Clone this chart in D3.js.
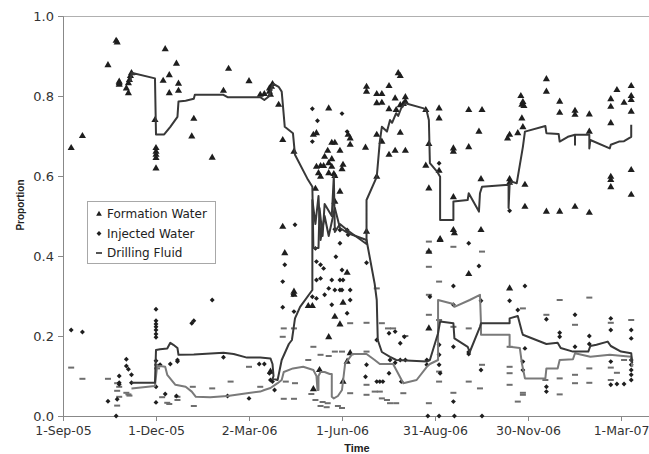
<!DOCTYPE html>
<html><head><meta charset="utf-8">
<script src="https://cdn.jsdelivr.net/npm/d3@7"></script>
<style>body{margin:0;background:#fff}svg{display:block}</style>
</head><body>
<svg id="c" width="649" height="454"></svg>
<script>
const xTicks = ["2005-09-01","2005-12-01","2006-03-02","2006-06-01","2006-08-31","2006-11-30","2007-03-01"];
const yTicks = [0,0.2,0.4,0.6,0.8,1.0];
const seriesNames = ["Formation Water","Injected Water","Drilling Fluid"];

const formationWater = [["2005-09-09",0.67],["2005-09-20",0.70],["2005-10-15",0.877],["2005-10-23",0.938],["2005-10-24",0.934],["2005-10-26",0.836],["2005-10-26",0.828],["2005-10-26",0.832],["2005-11-02",0.819],["2005-11-04",0.807],["2005-11-04",0.832],["2005-11-05",0.84],["2005-11-06",0.85],["2005-11-07",0.857],["2005-11-30",0.74],["2005-12-01",0.67],["2005-12-01",0.661],["2005-12-01",0.653],["2005-12-01",0.645],["2005-12-01",0.619],["2005-12-08",0.838],["2005-12-10",0.917],["2005-12-14",0.852],["2005-12-14",0.807],["2005-12-21",0.881],["2005-12-23",0.831],["2005-12-23",0.813],["2006-01-05",0.699],["2006-01-07",0.743],["2006-01-25",0.646],["2006-02-05",0.813],["2006-02-10",0.868],["2006-03-02",0.837],["2006-03-13",0.803],["2006-03-17",0.805],["2006-03-22",0.819],["2006-03-22",0.811],["2006-03-23",0.803],["2006-03-24",0.823],["2006-03-25",0.83],["2006-03-31",0.778],["2006-04-04",0.69],["2006-04-04",0.473],["2006-04-06",0.407],["2006-04-15",0.661],["2006-04-15",0.311],["2006-04-15",0.303],["2006-04-29",0.275],["2006-05-03",0.275],["2006-05-04",0.703],["2006-05-07",0.707],["2006-05-06",0.568],["2006-05-07",0.623],["2006-05-09",0.607],["2006-05-11",0.625],["2006-05-11",0.598],["2006-05-14",0.625],["2006-05-18",0.663],["2006-05-15",0.648],["2006-05-19",0.632],["2006-05-19",0.607],["2006-05-19",0.769],["2006-05-22",0.642],["2006-05-22",0.683],["2006-05-22",0.623],["2006-05-24",0.605],["2006-05-25",0.683],["2006-05-25",0.60],["2006-05-25",0.536],["2006-05-30",0.663],["2006-05-30",0.561],["2006-06-01",0.617],["2006-06-02",0.628],["2006-06-07",0.703],["2006-06-09",0.694],["2006-06-09",0.678],["2006-06-06",0.358],["2006-06-02",0.283],["2006-05-25",0.248],["2006-05-30",0.229],["2006-05-19",0.197],["2006-05-04",0.067],["2006-05-10",0.115],["2006-06-09",0.157],["2006-06-06",0.136],["2006-06-02",0.086],["2006-03-23",0.111],["2006-06-25",0.461],["2006-06-25",0.823],["2006-06-25",0.811],["2006-06-24",0.671],["2006-07-05",0.805],["2006-07-05",0.782],["2006-07-10",0.805],["2006-07-10",0.783],["2006-07-17",0.825],["2006-07-26",0.857],["2006-07-28",0.85],["2006-07-23",0.794],["2006-08-02",0.797],["2006-08-02",0.786],["2006-07-17",0.767],["2006-07-24",0.765],["2006-07-28",0.777],["2006-07-31",0.78],["2006-07-05",0.703],["2006-07-10",0.686],["2006-07-28",0.708],["2006-07-17",0.653],["2006-07-23",0.663],["2006-08-02",0.663],["2006-07-05",0.598],["2006-08-22",0.765],["2006-09-04",0.769],["2006-09-04",0.744],["2006-08-25",0.68],["2006-08-22",0.626],["2006-09-04",0.613],["2006-08-25",0.569],["2006-08-25",0.411],["2006-08-25",0.219],["2006-09-05",0.442],["2006-10-03",0.765],["2006-10-16",0.765],["2006-10-13",0.711],["2006-10-03",0.672],["2006-09-18",0.669],["2006-09-18",0.661],["2006-10-15",0.592],["2006-09-18",0.547],["2006-11-12",0.703],["2006-11-10",0.694],["2006-11-20",0.707],["2006-11-23",0.80],["2006-11-25",0.785],["2006-11-24",0.778],["2006-11-26",0.775],["2006-11-24",0.744],["2006-11-25",0.722],["2006-11-12",0.592],["2006-11-12",0.583],["2006-11-27",0.578],["2006-11-27",0.523],["2006-12-18",0.842],["2006-12-18",0.811],["2006-12-31",0.786],["2006-12-31",0.758],["2007-01-15",0.763],["2007-01-15",0.753],["2007-01-29",0.754],["2007-01-29",0.711],["2006-12-18",0.511],["2006-12-31",0.511],["2007-01-15",0.523],["2007-01-29",0.508],["2007-02-19",0.792],["2007-02-19",0.773],["2007-02-25",0.815],["2007-03-04",0.783],["2007-03-11",0.825],["2007-03-11",0.80],["2007-03-11",0.79],["2007-03-11",0.761],["2007-02-19",0.732],["2007-03-11",0.615],["2007-02-19",0.598],["2007-02-19",0.59],["2007-02-19",0.572],["2007-03-11",0.553],["2006-09-18",0.465],["2006-09-19",0.457],["2006-10-15",0.465],["2006-09-05",0.44],["2006-10-03",0.355],["2006-11-12",0.319]];

const injectedWater = [["2005-09-09",0.215],["2005-09-20",0.21],["2005-10-15",0.037],["2005-10-24",0.042],["2005-10-23",0.0],["2005-10-26",0.10],["2005-10-26",0.083],["2005-10-26",0.079],["2005-11-02",0.142],["2005-11-02",0.125],["2005-11-04",0.117],["2005-11-07",0.103],["2005-11-07",0.083],["2005-12-01",0.267],["2005-12-01",0.238],["2005-12-01",0.23],["2005-12-01",0.223],["2005-12-01",0.215],["2005-12-01",0.205],["2005-12-01",0.197],["2005-12-01",0.138],["2005-12-01",0.073],["2005-12-01",0.034],["2005-12-05",0.128],["2005-12-10",0.055],["2005-12-15",0.13],["2005-12-22",0.14],["2005-12-22",0.136],["2005-12-21",0.05],["2006-01-05",0.232],["2006-01-07",0.238],["2006-01-25",0.29],["2006-02-05",0.147],["2006-02-09",0.05],["2006-03-02",0.044],["2006-03-12",0.13],["2006-03-17",0.13],["2006-03-22",0.107],["2006-03-23",0.09],["2006-03-25",0.086],["2006-03-27",0.065],["2006-04-04",0.336],["2006-04-04",0.272],["2006-04-06",0.378],["2006-04-14",0.303],["2006-04-15",0.261],["2006-04-16",0.478],["2006-05-03",0.298],["2006-05-07",0.294],["2006-05-06",0.419],["2006-05-07",0.386],["2006-05-11",0.378],["2006-05-14",0.369],["2006-05-07",0.34],["2006-05-11",0.344],["2006-05-15",0.303],["2006-05-19",0.319],["2006-05-22",0.34],["2006-05-22",0.278],["2006-05-25",0.315],["2006-05-30",0.315],["2006-05-30",0.34],["2006-06-01",0.315],["2006-06-01",0.365],["2006-06-09",0.315],["2006-06-02",0.34],["2006-06-06",0.257],["2006-06-09",0.29],["2006-05-25",0.467],["2006-05-30",0.465],["2006-06-06",0.465],["2006-06-07",0.453],["2006-05-26",0.398],["2006-05-30",0.432],["2006-06-25",0.383],["2006-05-03",0.768],["2006-06-01",0.756],["2006-05-08",0.738],["2006-05-03",0.686],["2006-06-06",0.711],["2006-07-05",0.19],["2006-07-17",0.207],["2006-07-23",0.211],["2006-07-28",0.182],["2006-08-01",0.198],["2006-07-18",0.14],["2006-07-23",0.133],["2006-07-28",0.14],["2006-08-02",0.14],["2006-07-17",0.107],["2006-06-24",0.098],["2006-07-05",0.086],["2006-07-08",0.086],["2006-07-11",0.086],["2006-07-29",0.086],["2006-06-25",0.128],["2006-08-23",0.14],["2006-08-23",0.128],["2006-09-04",0.178],["2006-09-04",0.153],["2006-09-04",0.128],["2006-09-05",0.107],["2006-08-26",0.298],["2006-09-04",0.632],["2006-08-24",0.0],["2006-09-04",0.0],["2006-09-19",0.0],["2006-10-16",0.0],["2006-11-12",0.513],["2006-10-03",0.432],["2006-10-13",0.375],["2006-09-18",0.325],["2006-11-27",0.325],["2006-11-12",0.288],["2006-10-15",0.288],["2006-09-18",0.278],["2006-11-20",0.265],["2007-01-15",0.253],["2006-12-18",0.242],["2007-02-19",0.244],["2007-02-19",0.215],["2007-03-11",0.215],["2007-03-11",0.194],["2006-12-31",0.208],["2006-12-31",0.198],["2007-01-29",0.20],["2007-01-29",0.18],["2007-01-15",0.173],["2006-11-27",0.169],["2006-09-18",0.173],["2006-10-03",0.16],["2006-10-03",0.155],["2006-11-25",0.136],["2006-11-25",0.115],["2006-10-15",0.115],["2006-12-18",0.073],["2006-12-18",0.061],["2006-09-18",0.036],["2007-02-19",0.078],["2007-02-25",0.08],["2007-03-04",0.08],["2007-03-11",0.14],["2007-03-11",0.128],["2007-03-11",0.115],["2007-03-11",0.103],["2007-03-11",0.09],["2007-02-19",0.136]];

const drillingFluid = [["2005-09-09",0.121],["2005-09-20",0.093],["2005-10-15",0.093],["2005-10-24",0.063],["2005-10-24",0.082],["2005-10-24",0.026],["2005-10-26",0.073],["2005-10-26",0.048],["2005-11-02",0.058],["2005-11-04",0.054],["2005-11-05",0.051],["2005-12-02",0.128],["2005-12-02",0.119],["2005-12-07",0.047],["2005-12-12",0.033],["2005-12-14",0.03],["2005-12-22",0.04],["2005-12-22",0.048],["2006-01-06",0.073],["2006-01-07",0.025],["2006-01-25",0.069],["2006-02-12",0.086],["2006-03-02",0.123],["2006-03-13",0.073],["2006-04-05",0.219],["2006-04-04",0.198],["2006-04-15",0.219],["2006-04-07",0.086],["2006-04-16",0.082],["2006-04-05",0.043],["2006-04-15",0.043],["2006-05-04",0.173],["2006-04-29",0.14],["2006-05-11",0.153],["2006-05-19",0.15],["2006-05-25",0.161],["2006-06-01",0.161],["2006-06-25",0.161],["2006-07-05",0.319],["2006-06-09",0.232],["2006-06-25",0.233],["2006-07-10",0.232],["2006-07-16",0.219],["2006-07-21",0.219],["2006-08-02",0.20],["2006-05-02",0.055],["2006-05-06",0.04],["2006-05-13",0.035],["2006-05-18",0.032],["2006-05-11",0.025],["2006-05-17",0.022],["2006-05-28",0.025],["2006-06-01",0.02],["2006-06-09",0.057],["2006-06-25",0.053],["2006-06-25",0.078],["2006-07-03",0.061],["2006-07-08",0.061],["2006-07-10",0.044],["2006-07-15",0.04],["2006-07-18",0.032],["2006-07-24",0.032],["2006-07-31",0.057],["2006-08-25",0.436],["2006-08-25",0.411],["2006-08-25",0.373],["2006-08-25",0.303],["2006-08-25",0.253],["2006-08-25",0.032],["2006-09-04",0.336],["2006-09-04",0.24],["2006-09-04",0.086],["2006-09-04",0.111],["2006-09-18",0.423],["2006-10-16",0.411],["2006-12-31",0.29],["2007-01-29",0.296],["2006-11-25",0.269],["2006-12-18",0.253],["2007-01-15",0.228],["2007-03-11",0.24],["2007-02-19",0.233],["2006-10-03",0.219],["2006-09-18",0.223],["2006-11-12",0.173],["2006-11-12",0.123],["2006-11-12",0.107],["2006-11-12",0.078],["2006-10-16",0.128],["2007-01-15",0.103],["2007-01-15",0.082],["2007-01-29",0.119],["2007-01-29",0.083],["2006-12-31",0.094],["2006-12-31",0.054],["2006-12-17",0.09],["2007-02-19",0.121],["2007-02-19",0.09],["2007-02-25",0.108],["2007-03-04",0.14],["2006-10-03",0.086],["2006-10-14",0.069],["2006-09-18",0.058],["2006-11-20",0.036],["2006-11-25",0.058],["2006-11-25",0.053]];

const formationTrend = [["2005-11-06",0.836],["2005-11-07",0.858],["2005-11-30",0.844],["2005-12-01",0.704],["2005-12-09",0.704],["2005-12-15",0.723],["2005-12-22",0.748],["2005-12-23",0.786],["2005-12-30",0.788],["2006-01-07",0.793],["2006-01-08",0.803],["2006-02-05",0.803],["2006-02-09",0.797],["2006-03-13",0.797],["2006-03-17",0.79],["2006-03-22",0.80],["2006-03-25",0.828],["2006-03-26",0.83],["2006-03-31",0.823],["2006-04-03",0.811],["2006-04-04",0.782],["2006-04-06",0.723],["2006-04-14",0.707],["2006-04-16",0.653],["2006-04-28",0.594],["2006-05-03",0.573],["2006-05-04",0.42],["2006-05-09",0.42],["2006-05-10",0.52],["2006-05-13",0.45],["2006-05-15",0.53],["2006-05-22",0.50],["2006-05-24",0.60],["2006-05-25",0.46],["2006-05-30",0.48],["2006-06-06",0.465],["2006-06-25",0.43],["2006-06-25",0.54],["2006-07-05",0.598],["2006-07-08",0.686],["2006-07-10",0.723],["2006-07-15",0.711],["2006-07-18",0.74],["2006-07-20",0.733],["2006-07-24",0.757],["2006-07-26",0.75],["2006-07-29",0.77],["2006-08-02",0.782],["2006-08-20",0.769],["2006-08-23",0.761],["2006-08-25",0.74],["2006-08-26",0.632],["2006-09-02",0.611],["2006-09-05",0.598],["2006-09-05",0.49],["2006-09-18",0.49],["2006-09-18",0.536],["2006-10-02",0.54],["2006-10-03",0.557],["2006-10-13",0.511],["2006-10-14",0.557],["2006-10-16",0.573],["2006-11-11",0.578],["2006-11-11",0.52],["2006-11-12",0.578],["2006-11-14",0.586],["2006-11-19",0.582],["2006-11-25",0.673],["2006-11-27",0.711],["2006-12-17",0.725],["2006-12-18",0.707],["2006-12-30",0.705],["2006-12-31",0.686],["2007-01-08",0.698],["2007-01-15",0.703],["2007-01-15",0.678],["2007-01-15",0.703],["2007-01-29",0.703],["2007-01-29",0.669],["2007-01-30",0.69],["2007-02-18",0.669],["2007-02-19",0.678],["2007-02-27",0.686],["2007-03-04",0.687],["2007-03-11",0.698],["2007-03-11",0.728]];

const injectedTrend = [["2005-11-07",0.083],["2005-11-30",0.083],["2005-12-01",0.165],["2005-12-05",0.167],["2005-12-12",0.169],["2005-12-15",0.183],["2005-12-18",0.178],["2005-12-22",0.17],["2005-12-23",0.153],["2006-01-07",0.154],["2006-02-05",0.158],["2006-02-15",0.155],["2006-02-28",0.146],["2006-03-13",0.146],["2006-03-23",0.144],["2006-03-25",0.13],["2006-03-26",0.10],["2006-03-25",0.093],["2006-03-30",0.09],["2006-04-03",0.14],["2006-04-10",0.18],["2006-04-13",0.19],["2006-04-16",0.244],["2006-04-21",0.273],["2006-05-03",0.315],["2006-05-03",0.54],["2006-05-06",0.48],["2006-05-09",0.55],["2006-05-11",0.44],["2006-05-15",0.50],["2006-05-19",0.45],["2006-05-25",0.52],["2006-05-30",0.47],["2006-06-05",0.46],["2006-06-09",0.455],["2006-06-25",0.44],["2006-07-03",0.33],["2006-07-05",0.29],["2006-07-06",0.19],["2006-07-10",0.16],["2006-07-18",0.148],["2006-07-24",0.14],["2006-08-23",0.136],["2006-08-26",0.14],["2006-09-03",0.207],["2006-09-05",0.236],["2006-09-18",0.232],["2006-09-19",0.194],["2006-10-02",0.173],["2006-10-04",0.16],["2006-10-14",0.223],["2006-10-15",0.232],["2006-11-12",0.232],["2006-11-12",0.244],["2006-11-20",0.25],["2006-11-24",0.211],["2006-11-25",0.203],["2006-12-18",0.18],["2006-12-29",0.183],["2007-01-01",0.17],["2007-01-13",0.161],["2007-01-28",0.161],["2007-01-30",0.175],["2007-02-05",0.178],["2007-02-16",0.186],["2007-02-19",0.175],["2007-03-01",0.161],["2007-03-11",0.157],["2007-03-12",0.132]];

const drillingTrend = [["2005-11-07",0.069],["2005-11-30",0.075],["2005-12-02",0.123],["2005-12-05",0.125],["2005-12-10",0.123],["2005-12-12",0.103],["2005-12-20",0.078],["2005-12-30",0.073],["2006-01-05",0.061],["2006-01-09",0.048],["2006-01-23",0.047],["2006-02-09",0.05],["2006-02-28",0.057],["2006-03-13",0.061],["2006-03-17",0.065],["2006-03-23",0.07],["2006-03-30",0.082],["2006-04-03",0.09],["2006-04-05",0.11],["2006-04-14",0.119],["2006-04-24",0.123],["2006-05-04",0.115],["2006-05-07",0.10],["2006-05-08",0.065],["2006-05-09",0.065],["2006-05-09",0.10],["2006-05-11",0.11],["2006-05-15",0.11],["2006-05-20",0.105],["2006-05-22",0.105],["2006-05-22",0.048],["2006-05-24",0.044],["2006-05-28",0.05],["2006-06-01",0.065],["2006-06-04",0.13],["2006-06-09",0.148],["2006-06-11",0.155],["2006-06-25",0.155],["2006-07-03",0.14],["2006-07-08",0.13],["2006-07-21",0.13],["2006-07-31",0.082],["2006-08-13",0.09],["2006-08-23",0.123],["2006-08-26",0.13],["2006-09-03",0.14],["2006-09-03",0.29],["2006-09-18",0.28],["2006-09-19",0.273],["2006-10-04",0.29],["2006-10-14",0.303],["2006-10-15",0.23],["2006-10-15",0.203],["2006-11-12",0.203],["2006-11-12",0.173],["2006-11-22",0.17],["2006-11-24",0.132],["2006-11-27",0.094],["2006-12-17",0.094],["2006-12-18",0.119],["2006-12-29",0.119],["2006-12-31",0.14],["2007-01-13",0.142],["2007-01-15",0.157],["2007-01-30",0.148],["2007-02-18",0.153],["2007-03-11",0.148],["2007-03-12",0.123]];

const parse = d3.timeParse("%Y-%m-%d");
const svg = d3.select("#c");
const x = d3.scaleTime().domain([parse("2005-09-01"), parse("2007-03-01")]).range([63, 621]);
const y = d3.scaleLinear().domain([0, 1]).range([416, 16]);
const font = "'DejaVu Sans', Verdana, sans-serif";

// top border
svg.append("line").attr("x1", 63).attr("x2", 649).attr("y1", 16.5).attr("y2", 16.5)
  .attr("stroke", "#b0b0b0").attr("stroke-width", 1);

// axes
const xAxis = svg.append("g").attr("transform", "translate(0,416)")
  .call(d3.axisBottom(x).tickValues(xTicks.map(parse)).tickFormat(d3.timeFormat("%-d-%b-%y")).tickSize(5).tickPadding(5));
xAxis.select(".domain").remove();
xAxis.selectAll("line").attr("stroke", "#888");
xAxis.selectAll("text").attr("font-family", font).attr("font-size", 12.5).attr("fill", "#333");
svg.append("line").attr("x1", 63).attr("x2", 649).attr("y1", 416.5).attr("y2", 416.5).attr("stroke", "#888");

const yAxis = svg.append("g").attr("transform", "translate(63,0)")
  .call(d3.axisLeft(y).tickValues(yTicks).tickFormat(d3.format(".1f")).tickSize(5).tickPadding(4));
yAxis.select(".domain").attr("stroke", "#888");
yAxis.selectAll("line").attr("stroke", "#888");
yAxis.selectAll("text").attr("font-family", font).attr("font-size", 13).attr("fill", "#333");

svg.append("text").attr("x", 357).attr("y", 452).attr("text-anchor", "middle")
  .attr("font-family", "'Liberation Sans', Arial, sans-serif").attr("font-weight", "bold").attr("font-size", 11).attr("fill", "#222").text("Time");
svg.append("text").attr("transform", "translate(24,205) rotate(-90)").attr("text-anchor", "middle")
  .attr("font-family", "'Liberation Sans', Arial, sans-serif").attr("font-weight", "bold").attr("font-size", 10).attr("fill", "#222").text("Proportion");

const prep = a => a.map(d => ({date: parse(d[0]), v: d[1]}));
const line = d3.line().x(d => x(d.date)).y(d => y(d.v));

const g = svg.append("g");
const tri = d3.symbol(d3.symbolTriangle, 22)();
const dia = d3.symbol(d3.symbolSquare, 12)();

g.selectAll(".dash").data(prep(drillingFluid)).join("rect")
  .attr("x", d => x(d.date) - 3).attr("y", d => y(d.v) - 1).attr("width", 6).attr("height", 2).attr("fill", "#6e6e6e");
g.selectAll(".dia").data(prep(injectedWater)).join("path").attr("d", dia)
  .attr("transform", d => `translate(${x(d.date)},${y(d.v)}) rotate(45)`).attr("fill", "#1e1e1e");
g.selectAll(".tri").data(prep(formationWater)).join("path").attr("d", tri)
  .attr("transform", d => `translate(${x(d.date)},${y(d.v)})`).attr("fill", "#1e1e1e");

svg.append("path").datum(prep(drillingTrend)).attr("d", line).attr("fill", "none").attr("stroke", "#7a7a7a").attr("stroke-width", 2).attr("stroke-linejoin", "round");
svg.append("path").datum(prep(injectedTrend)).attr("d", line).attr("fill", "none").attr("stroke", "#383838").attr("stroke-width", 2).attr("stroke-linejoin", "round");
svg.append("path").datum(prep(formationTrend)).attr("d", line).attr("fill", "none").attr("stroke", "#383838").attr("stroke-width", 2).attr("stroke-linejoin", "round");

// legend
const lg = svg.append("g");
lg.append("rect").attr("x", 87.5).attr("y", 201.5).attr("width", 128).attr("height", 62).attr("fill", "#fff").attr("stroke", "#a8a8a8");
const legY = [214, 233.5, 253];
lg.append("path").attr("d", tri).attr("transform", `translate(99,${legY[0]}) scale(0.8)`).attr("fill", "#1e1e1e");
lg.append("path").attr("d", dia).attr("transform", `translate(99,${legY[1]}) rotate(45)`).attr("fill", "#1e1e1e");
lg.append("rect").attr("x", 96).attr("y", legY[2] - 1).attr("width", 6).attr("height", 2).attr("fill", "#555");
seriesNames.forEach((n, i) => {
  lg.append("text").attr("x", 107).attr("y", legY[i] + 4).attr("font-family", font).attr("font-size", 12).attr("fill", "#222").text(n);
});
</script>
</body></html>
